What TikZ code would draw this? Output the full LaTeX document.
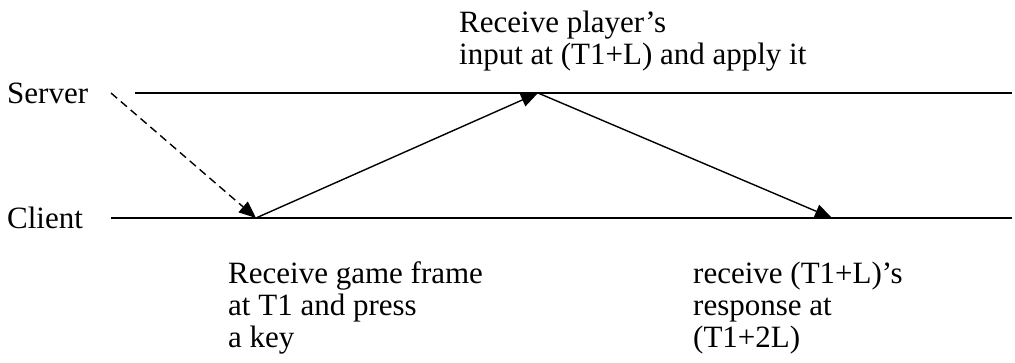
\documentclass[tikz,border=0pt]{standalone}
\usepackage{fontspec}
\setmainfont{Liberation Serif}
\usetikzlibrary{arrows.meta}
\begin{document}
\begin{tikzpicture}[x=1pt,y=1pt,
  lbl/.style={inner sep=0pt, anchor=base west, align=left, font=\fontsize{31}{32}\selectfont},
  tline/.style={line width=1.5pt},
  msg/.style={line width=1.4pt, -{Triangle[length=17pt,width=14pt]}}]
\useasboundingbox (0,0) rectangle (1015,362);
% time lines
\coordinate (sL) at (135,269);
\coordinate (sR) at (1012,269);
\coordinate (cL) at (111,144);
\coordinate (cR) at (1012,144);
\draw[tline] (sL) -- (sR);
\draw[tline] (cL) -- (cR);
% events
\coordinate (ds) at (111,269);
\coordinate (c1) at (256,144);
\coordinate (s1) at (538,269);
\coordinate (c2) at (832,144);
\draw[msg, dashed, dash pattern=on 8pt off 5pt] (ds) -- (c1);
\draw[msg] (c1) -- (s1);
\draw[msg] (s1) -- (c2);
% labels
\node[lbl] (server) at (7,258) {Server};
\node[lbl] (client) at (7,134) {Client};
\node[lbl] (top) at (459,297) {Receive player’s\\input at (T1+L) and apply it};
\node[lbl] (bl) at (228,15) {Receive game frame\\at T1 and press\\a key};
\node[lbl] (br) at (693,15) {receive (T1+L)’s\\response at\\(T1+2L)};
\end{tikzpicture}
\end{document}
